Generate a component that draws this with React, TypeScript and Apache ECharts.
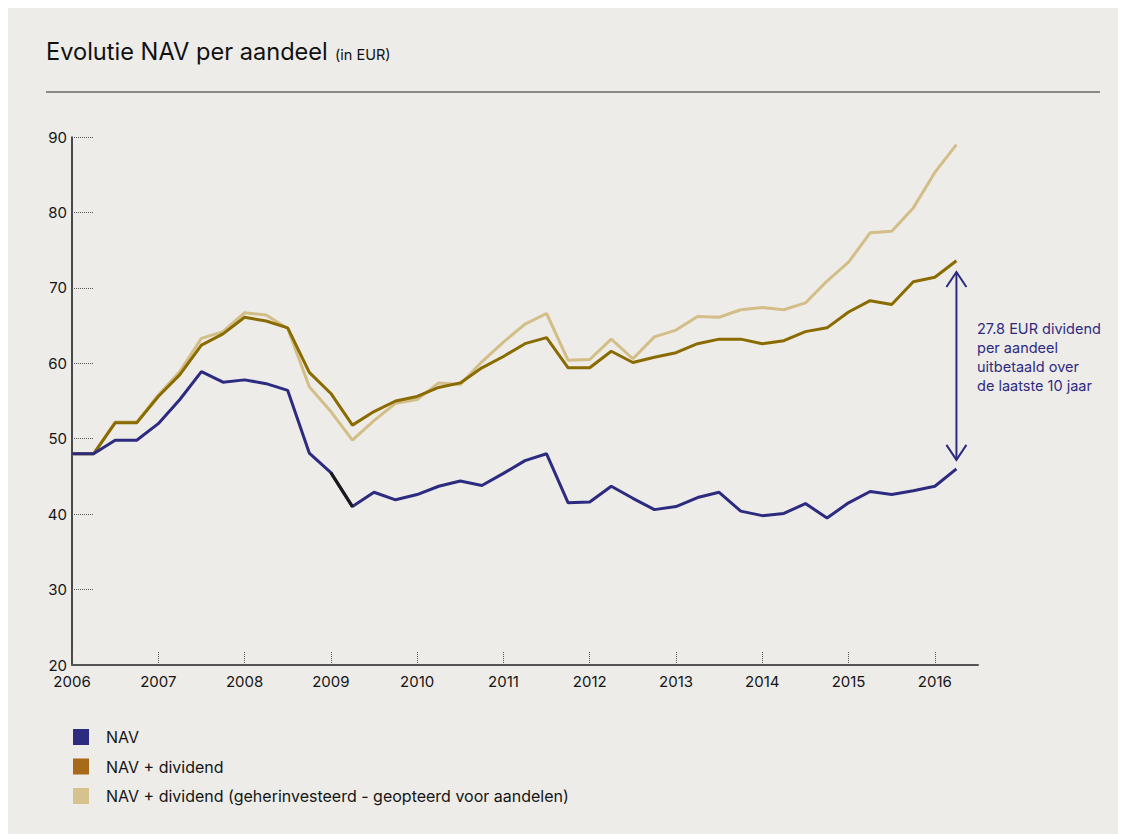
import React, { useEffect, useRef } from "react";
import * as echarts from "echarts";

// ---- data ----
const years = [2006, 2007, 2008, 2009, 2010, 2011, 2012, 2013, 2014, 2015, 2016];
const quarterNames = ["Q1", "Q2", "Q3", "Q4"];
const lastQuarterIndex = 42; // axis runs to 2016 Q3

const nav = [
  48.0, 48.0, 49.8, 49.8, 52.0, 55.2, 58.9, 57.5, 57.8, 57.3, 56.4, 48.1, 45.5, 41.0, 42.9,
  41.9, 42.6, 43.7, 44.4, 43.8, 45.4, 47.1, 48.0, 41.5, 41.6, 43.7, 42.1, 40.6, 41.0,
  42.2, 42.9, 40.4, 39.8, 40.1, 41.4, 39.5, 41.5, 43.0, 42.6, 43.1, 43.7, 46.0,
];
const navDividend = [
  48.0, 48.0, 52.1, 52.1, 55.6, 58.5, 62.4, 63.9, 66.1, 65.6, 64.7, 58.8, 56.0, 51.8, 53.6,
  55.0, 55.6, 56.8, 57.4, 59.4, 60.9, 62.6, 63.4, 59.4, 59.4, 61.6, 60.1, 60.8, 61.4,
  62.6, 63.2, 63.2, 62.6, 63.0, 64.2, 64.7, 66.8, 68.3, 67.8, 70.8, 71.4, 73.6,
];
const navReinvested = [
  48.0, 48.0, 52.2, 52.2, 55.8, 58.9, 63.3, 64.2, 66.7, 66.4, 64.6, 56.9, 53.6, 49.8, 52.4,
  54.7, 55.2, 57.4, 57.2, 60.2, 62.8, 65.2, 66.6, 60.4, 60.5, 63.2, 60.6, 63.5, 64.4,
  66.2, 66.1, 67.1, 67.4, 67.1, 68.0, 70.9, 73.4, 77.3, 77.5, 80.6, 85.3, 89.0,
];
// black segment of the NAV line (2009 Q1 -> 2009 Q2)
const blackSegmentIdx = [12, 13];

const seriesNames = [
  "NAV",
  "NAV + dividend",
  "NAV + dividend (geherinvesteerd - geopteerd voor aandelen)",
];
const yTicks = { min: 20, max: 90, interval: 10 };
const arrowTop = 72.1;
const arrowBottom = 47.2;
const annotation = "27.8 EUR dividend\nper aandeel\nuitbetaald over\nde laatste 10 jaar";

// categories built from years x quarters
const categories: string[] = [];
years.forEach((y) => quarterNames.forEach((q) => categories.push(`${y} ${q}`)));
categories.length = lastQuarterIndex + 1;

const FONT = "Inter, 'Noto Sans', sans-serif";
const BLUE = "#2D2B80";
const OLIVE = "#8A6B00";
const TAN = "#D3BE88";
const BG = "#EDECE8";

export default function App() {
  const ref = useRef<HTMLDivElement>(null);
  useEffect(() => {
    if (!ref.current) return;
    document.documentElement.style.overflow = "hidden";
    const chart = echarts.init(ref.current, undefined, { renderer: "svg" });
    const blackData = nav.map((v, i) => (blackSegmentIdx.includes(i) ? v : null));
    chart.setOption({
      animation: false,
      backgroundColor: BG,
      textStyle: { fontFamily: FONT },
      grid: { left: 64, top: 129, right: 148, bottom: 169, containLabel: false },
      legend: {
        orient: "vertical",
        left: 65,
        top: 721,
        padding: 0,
        itemWidth: 16,
        itemHeight: 16,
        itemGap: 13.5,
        icon: "rect",
        selectedMode: false,
        textStyle: { fontSize: 16, color: "#151515", fontFamily: FONT, padding: [0, 0, 0, 12] },
        data: [
          { name: seriesNames[0], itemStyle: { color: "#2D2B80" } },
          { name: seriesNames[1], itemStyle: { color: "#A66A18" } },
          { name: seriesNames[2], itemStyle: { color: "#D6C28C" } },
        ],
      },
      xAxis: {
        type: "category",
        data: categories,
        boundaryGap: false,
        axisLine: { lineStyle: { color: "#555", width: 2 } },
        axisTick: {
          inside: true,
          length: 13,
          interval: 3,
          lineStyle: { color: "#555", type: "dotted", width: 1 },
        },
        axisLabel: {
          interval: 3,
          margin: 9,
          fontSize: 15,
          color: "#151515",
          fontFamily: FONT,
          formatter: (v: string) => v.split(" ")[0],
        },
        splitLine: { show: false },
      },
      yAxis: {
        type: "value",
        min: yTicks.min,
        max: yTicks.max,
        interval: yTicks.interval,
        axisLine: { show: true, lineStyle: { color: "#111", width: 1.5 } },
        axisTick: {
          show: true,
          inside: true,
          length: 22,
          lineStyle: { color: "#555", type: "dotted", width: 1 },
        },
        axisLabel: { margin: 5, fontSize: 15, color: "#151515", fontFamily: FONT },
        splitLine: { show: false },
      },
      series: [
        {
          name: seriesNames[2],
          type: "line",
          data: navReinvested,
          symbol: "none",
          lineStyle: { color: TAN, width: 3 },
          itemStyle: { color: TAN },
          z: 2,
        },
        {
          name: seriesNames[1],
          type: "line",
          data: navDividend,
          symbol: "none",
          lineStyle: { color: OLIVE, width: 3 },
          itemStyle: { color: OLIVE },
          z: 3,
        },
        {
          name: seriesNames[0],
          type: "line",
          data: nav,
          symbol: "none",
          lineStyle: { color: BLUE, width: 3 },
          itemStyle: { color: BLUE },
          z: 4,
        },
        {
          name: "nav-black",
          type: "line",
          data: blackData,
          symbol: "none",
          connectNulls: false,
          lineStyle: { color: "#1a1a1a", width: 3 },
          z: 5,
          silent: true,
        },
      ],
    });

    const last = nav.length - 1;
    const top = chart.convertToPixel({ gridIndex: 0 }, [last, arrowTop]) as number[];
    const bot = chart.convertToPixel({ gridIndex: 0 }, [last, arrowBottom]) as number[];
    const hw = 10;
    const hh = 15;
    const arrowStyle = { stroke: BLUE, lineWidth: 2, fill: "none" };
    chart.setOption({
      graphic: [
        {
          type: "text",
          left: 38,
          top: 31,
          style: {
            text: "Evolutie NAV per aandeel",
            fontSize: 23.6,
            fontFamily: FONT,
            fill: "#111",
          },
        },
        {
          type: "text",
          left: 327,
          top: 39,
          style: { text: "(in EUR)", fontSize: 14.5, fontFamily: FONT, fill: "#111" },
        },
        {
          type: "line",
          shape: { x1: 38, y1: 84, x2: 1092, y2: 84 },
          style: { stroke: "#6a6a6a", lineWidth: 1.5 },
        },
        {
          type: "line",
          shape: { x1: top[0], y1: top[1], x2: bot[0], y2: bot[1] },
          style: arrowStyle,
        },
        {
          type: "polyline",
          shape: { points: [[top[0] - hw, top[1] + hh], [top[0], top[1]], [top[0] + hw, top[1] + hh]] },
          style: arrowStyle,
        },
        {
          type: "polyline",
          shape: { points: [[bot[0] - hw, bot[1] - hh], [bot[0], bot[1]], [bot[0] + hw, bot[1] - hh]] },
          style: arrowStyle,
        },
        {
          type: "text",
          x: 969,
          y: 311,
          style: {
            text: annotation,
            fontSize: 14.5,
            lineHeight: 19,
            fontFamily: FONT,
            fill: BLUE,
            verticalAlign: "top",
          },
        },
      ],
    });
    return () => chart.dispose();
  }, []);
  return (
    <div style={{ width: 1140, height: 840, background: BG }}>
      <div ref={ref} style={{ width: 1118, height: 826 }} />
    </div>
  );
}
